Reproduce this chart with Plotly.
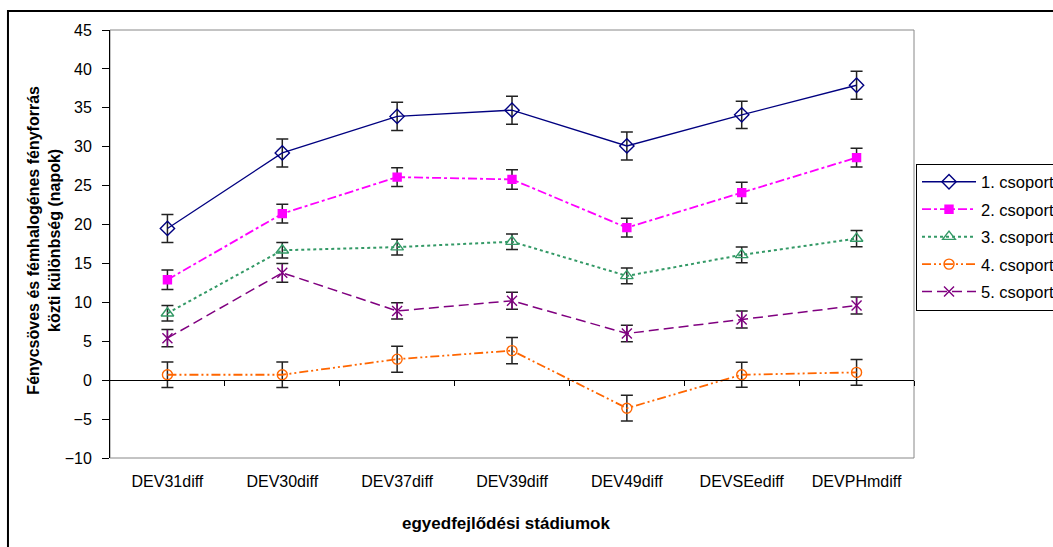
import plotly.graph_objects as go

categories = ["DEV31diff", "DEV30diff", "DEV37diff", "DEV39diff", "DEV49diff", "DEVSEediff", "DEVPHmdiff"]
series_names = ["1. csoport", "2. csoport", "3. csoport", "4. csoport", "5. csoport"]
g1 = [19.5, 29.2, 33.9, 34.7, 30.1, 34.1, 37.9]
g2 = [12.9, 21.4, 26.1, 25.8, 19.6, 24.1, 28.6]
g3 = [8.6, 16.7, 17.1, 17.8, 13.4, 16.1, 18.2]
g4 = [0.7, 0.7, 2.7, 3.8, -3.6, 0.7, 1.0]
g5 = [5.4, 13.8, 8.9, 10.2, 6.0, 7.8, 9.6]
e1 = [1.8, 1.8, 1.8, 1.8, 1.8, 1.75, 1.8]
e2 = [1.25, 1.2, 1.2, 1.25, 1.2, 1.35, 1.2]
e3 = [1.0, 1.0, 1.0, 1.0, 1.0, 1.0, 1.05]
e4 = [1.65, 1.65, 1.67, 1.7, 1.65, 1.6, 1.65]
e5 = [1.1, 1.2, 1.05, 1.1, 1.05, 1.1, 1.1]
yticks = list(range(-10, 50, 5))
boundaries = [0.5, 1.5, 2.5, 3.5, 4.5, 5.5, 6.5]

styles = [
    dict(color="#000080", dash="solid", width=1.3, symbol="diamond-open", size=11),
    dict(color="#FF00FF", dash="dashdot", width=1.8, symbol="square", size=8),
    dict(color="#339966", dash="dot", width=2, symbol="triangle-up-open", size=11),
    dict(color="#FF6600", dash="9px,3px,2px,3px,2px,3px", width=1.8, symbol="circle-open", size=10),
    dict(color="#800080", dash="10px,5px", width=1.5, symbol="x-thin-open", size=10),
]
values = [g1, g2, g3, g4, g5]
errors = [e1, e2, e3, e4, e5]

fig = go.Figure()
for name, ys, es, st in zip(series_names, values, errors, styles):
    fig.add_trace(go.Scatter(
        x=categories, y=ys, name=name, mode="lines+markers",
        legendgroup=name,
        line=dict(color=st["color"], dash=st["dash"], width=st["width"]),
        marker=dict(symbol=st["symbol"], size=st["size"], color=st["color"],
                    line=dict(color=st["color"], width=1.4)),
        error_y=dict(type="data", array=es, visible=True, color="#222222", thickness=1.5, width=6),
    ))
# vertical stroke of the star marker for group 5
fig.add_trace(go.Scatter(
    x=categories, y=g5, mode="markers", showlegend=False, legendgroup=series_names[4],
    marker=dict(symbol="line-ns-open", size=12, color="#800080", line=dict(color="#800080", width=1.4)),
    hoverinfo="skip",
))
# dummy trace on overlay axis drawn along y = 0
fig.add_trace(go.Scatter(x=[0], y=[0], xaxis="x2", mode="markers", marker=dict(opacity=0),
                         showlegend=False, hoverinfo="skip"))

base = "Liberation Sans, Arial, sans-serif"
fig.update_layout(
    width=1053, height=547,
    margin=dict(l=110, r=139, t=30, b=89, autoexpand=False),
    plot_bgcolor="white", paper_bgcolor="white",
    font=dict(family=base, size=16, color="black"),
    showlegend=True,
    legend=dict(x=1.0025, y=0.688, xanchor="left", yanchor="top",
                bordercolor="black", borderwidth=1, bgcolor="white",
                font=dict(family=base, size=16.5),
                tracegroupgap=3, itemwidth=54),
    xaxis=dict(type="category", categoryorder="array", categoryarray=categories,
               range=[-0.5, 6.5], showline=False, showgrid=False, zeroline=False,
               ticks="", ticklabelstandoff=12, tickfont=dict(size=16)),
    xaxis2=dict(overlaying="x", anchor="free", position=10 / 55, range=[-0.5, 6.5],
                showline=True, linecolor="black", linewidth=1, showgrid=False, zeroline=False,
                ticks="outside", ticklen=5, tickcolor="black", tickvals=boundaries,
                showticklabels=False),
    yaxis=dict(range=[-10, 45], tickvals=yticks, showline=True, linecolor="black", linewidth=1,
               ticks="outside", ticklen=7, tickcolor="black", showgrid=False, zeroline=False,
               ticklabelstandoff=7, tickfont=dict(size=16)),
    shapes=[
        dict(type="rect", xref="paper", yref="paper", x0=0, x1=1, y0=0, y1=1,
             line=dict(color="#888888", width=1), layer="below"),
        dict(type="rect", xref="paper", yref="paper", x0=-0.1269, x1=1.2, y0=-0.3, y1=1.0444,
             line=dict(color="black", width=2), layer="below"),
    ],
    annotations=[
        dict(text="<b>Fénycsöves és fémhalogénes fényforrás<br>közti különbség (napok)</b>",
             xref="paper", yref="paper", x=-0.082, y=0.508, xanchor="center", yanchor="middle",
             textangle=-90, showarrow=False,
             font=dict(family=base, size=16)),
        dict(text="<b>egyedfejlődési stádiumok</b>", xref="paper", yref="paper",
             x=0.492, y=-0.154, xanchor="center", yanchor="middle", showarrow=False,
             font=dict(family=base, size=17)),
    ],
)
fig.write_html("out.html", config={"displayModeBar": False},
               post_script="document.body.style.margin='0';document.body.style.overflow='hidden';")
